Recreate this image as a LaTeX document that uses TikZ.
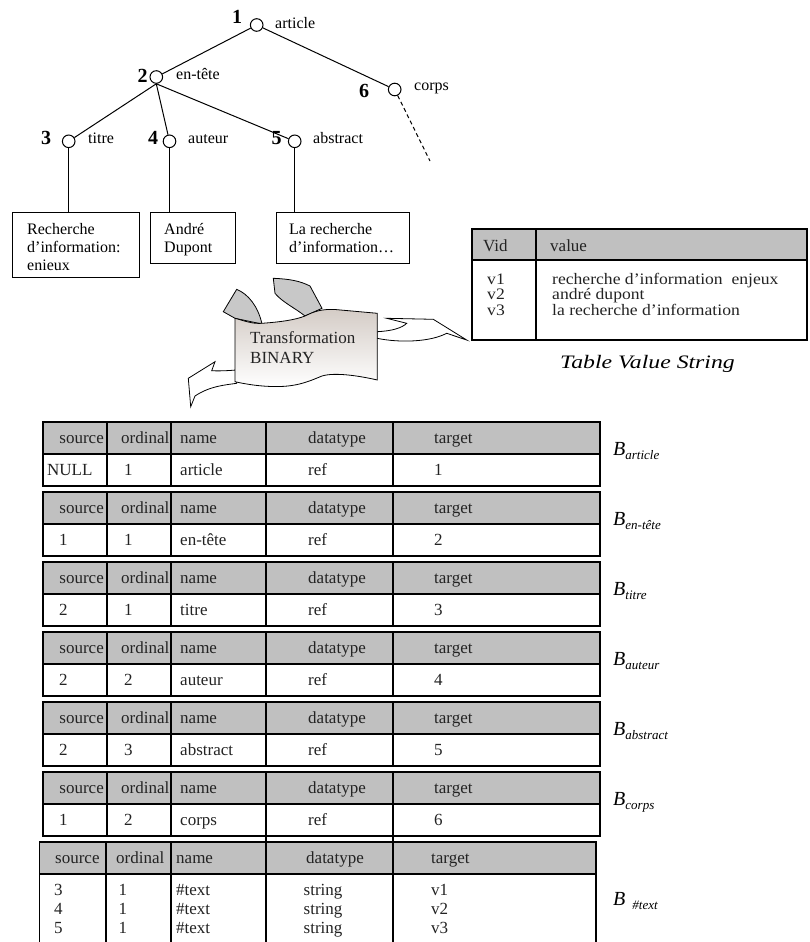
\documentclass[tikz,border=0pt]{standalone}
\usepackage{fontspec}
\setmainfont{Liberation Serif}
\newfontfamily\widefont[FakeStretch=1.25]{Liberation Serif Italic}
\newfontfamily\valfont[FakeStretch=1.1]{Liberation Serif}
\usetikzlibrary{positioning}

\definecolor{hdrgray}{RGB}{192,192,192}
\definecolor{flapgray}{RGB}{200,200,200}
\definecolor{scrolltop}{RGB}{212,204,198}
\definecolor{ink}{RGB}{35,35,35}

\tikzstyle{elem} = [circle, draw=black, line width=1pt, minimum size=12.6pt, inner sep=0pt]
\tikzstyle{elemnum} = [font=\fontsize{20}{22}\selectfont\bfseries, inner sep=0pt, anchor=base]
\tikzstyle{elemtag} = [font=\fontsize{16}{18}\selectfont, inner sep=0pt, anchor=base west]
\tikzstyle{edge} = [draw=black, line width=1pt]
\tikzstyle{leaf} = [rectangle, draw=black, line width=1pt, anchor=north west, inner sep=0pt]
\tikzstyle{leaftext} = [font=\fontsize{16}{18}\selectfont, align=left, inner sep=0pt, anchor=north west]
\tikzstyle{hdr} = [fill=hdrgray, draw=black, line width=1.2pt]
\tikzstyle{tbl} = [draw=black, line width=1.2pt]
\tikzstyle{cell} = [font=\fontsize{17}{19}\selectfont, text=ink, inner sep=0pt, anchor=base west]
\tikzstyle{valcell} = [font=\valfont\fontsize{16}{17}\selectfont, text=ink, inner sep=0pt, anchor=base west]
\tikzstyle{flap} = [fill=flapgray, draw=black, line width=0.8pt]
\tikzstyle{tail} = [fill=white, draw=black, line width=0.8pt]

\newcommand{\bname}[2][0pt]{{\fontsize{20}{22}\selectfont\itshape B}\hspace{#1}{\fontsize{13}{15}\selectfont\itshape\raisebox{-4pt}{#2}}}

\begin{document}
\begin{tikzpicture}[x=1pt, y=-1pt]
	\useasboundingbox (0,0) rectangle (810,942);
	\clip (0,0) rectangle (810,942);
	\fill[white] (0,0) rectangle (810,942);

	% Nodes for the document tree
	\node (article) [elem] at (256.7,25) {};
	\node (entete) [elem] at (156.3,77) {};
	\node (corps) [elem] at (394.7,89.5) {};
	\node (titre) [elem] at (68.7,141.3) {};
	\node (auteur) [elem] at (169.5,141.3) {};
	\node (abstract) [elem] at (294.7,141.3) {};
	\coordinate (corpsmore) at (430,161);

	% Numbers and names of the elements
	\node (num1) [elemnum] at (237,24) {1};
	\node (num2) [elemnum] at (142.5,82) {2};
	\node (num6) [elemnum] at (364,97) {6};
	\node (num3) [elemnum] at (46,144) {3};
	\node (num4) [elemnum] at (153,144) {4};
	\node (num5) [elemnum] at (276.5,144) {5};
	\node (tagarticle) [elemtag] at (275,28.5) {article};
	\node (tagentete) [elemtag] at (176,79) {en-tête};
	\node (tagcorps) [elemtag] at (414,90) {corps};
	\node (tagtitre) [elemtag] at (88,143) {titre};
	\node (tagauteur) [elemtag] at (188,143) {auteur};
	\node (tagabstract) [elemtag] at (313,143) {abstract};

	% Edges of the tree
	\draw [edge] (article) -- (entete);
	\draw [edge] (article) -- (corps);
	\draw [edge] (entete.south) -- (titre);
	\draw [edge] (entete.south) -- (auteur);
	\draw [edge] (entete.south) -- (abstract);
	\draw [edge, dash pattern=on 4pt off 3pt] (corps) -- (corpsmore);

	% Text leaves
	\node (boxtitre) [leaf, minimum width=127pt, minimum height=65pt] at (12,212) {};
	\node (boxauteur) [leaf, minimum width=85pt, minimum height=51pt] at (150,212) {};
	\node (boxabstract) [leaf, minimum width=133pt, minimum height=51pt] at (276,212) {};
	\node (texttitre) [leaftext] at (27,223) {Recherche\\d’information:\\enieux};
	\node (textauteur) [leaftext] at (164,223) {André\\Dupont};
	\node (textabstract) [leaftext] at (289,223) {La recherche\\d’information…};
	\draw [edge] (titre) -- (titre |- boxtitre.north);
	\draw [edge] (auteur) -- (auteur |- boxauteur.north);
	\draw [edge] (abstract) -- (abstract |- boxabstract.north);

	% Table Value String
	\filldraw [hdr] (472,229) rectangle (807,260);
	\draw [tbl] (472,260) rectangle (807,340);
	\draw [tbl] (536,229) -- (536,340);
	\node (vidhead) [cell] at (483,251) {Vid};
	\node (valuehead) [cell] at (550,251) {value};
	\foreach \v/\txt [count=\i] in {v1/recherche d’information~ enjeux, v2/andré dupont, v3/la recherche d’information} {
		\node (vid\i) [valcell] at (487,268.5+15.5*\i) {\v};
		\node (val\i) [valcell] at (552,268.5+15.5*\i) {\txt};
	}
	\node (tablecaption) [inner sep=0pt, anchor=base west, font=\widefont\fontsize{19}{21}\selectfont] at (560,368) {Table Value String};

	% Transformation scroll
	\draw [flap] (223.3,311.7) -- (236.7,289.3) .. controls (248,294) and (258,306) .. (262,324) -- (235,318.3) -- cycle;
	\draw [flap] (273.3,278.3) .. controls (290,279) and (300,281) .. (310,286) -- (322,308.3) -- (305,316) .. controls (295,308) and (282,302) .. (275,293.3) -- cycle;
	\draw [tail] (377,331.7) .. controls (392,331) and (402,328) .. (406.7,323.3) -- (386.7,318.3) -- (433.3,319.3) -- (466.7,340) -- (446.7,333.3) .. controls (430,342) and (400,343) .. (377,338.3) -- cycle;
	\draw [tail] (236,370) .. controls (225,371) and (216,371) .. (211.7,370.7) -- (215,361.7) -- (188.3,378.3) -- (190.7,406.7) -- (195,396) .. controls (210,386) and (225,385) .. (236.7,383.3) -- cycle;
	\path [draw=black, line width=0.8pt, top color=scrolltop, bottom color=white]
		(235,318.3) .. controls (245,321) and (252,324) .. (262,323.3)
		.. controls (280,322) and (295,320) .. (305,316)
		.. controls (315,311) and (322,309) .. (335,309.5) -- (377.3,313.3) -- (377.3,380)
		.. controls (360,376) and (335,372) .. (322,376)
		.. controls (312,380) and (300,386) .. (280,386.5)
		.. controls (262,387) and (245,384) .. (235,381.7) -- cycle;
	\node (transfo) [font=\fontsize{17}{20}\selectfont, text=ink, align=left, inner sep=0pt, anchor=west] at (250,348) {Transformation\\BINARY};

	% Binary tables
	\foreach \sx/\src/\ord/\nm/\tgt [count=\k from 0] in {47/NULL/1/article/1, 59/1/1/en-tête/2, 59/2/1/titre/3, 59/2/2/auteur/4, 59/2/3/abstract/5, 59/1/2/corps/6} {
		\pgfmathsetmacro{\ty}{422+70*\k}
		\filldraw [hdr] (43,\ty) rectangle (600,\ty+32);
		\draw [tbl] (43,\ty+32) rectangle (600,\ty+64);
		\foreach \x in {107,171,266,393} \draw [tbl] (\x,\ty) -- (\x,\ty+64);
		\node (src\k) [cell, anchor=base east] at (104,\ty+21) {source};
		\node (ord\k) [cell] at (121,\ty+21) {ordinal};
		\node (nam\k) [cell] at (180,\ty+21) {name};
		\node (typ\k) [cell] at (308,\ty+21) {datatype};
		\node (tar\k) [cell] at (434,\ty+21) {target};
		\node (srcv\k) [cell] at (\sx,\ty+53) {\src};
		\node (ordv\k) [cell] at (124,\ty+53) {\ord};
		\node (namv\k) [cell] at (180,\ty+53) {\nm};
		\node (typv\k) [cell] at (308,\ty+53) {ref};
		\node (tarv\k) [cell] at (434,\ty+53) {\tgt};
		\node (blab\k) [inner sep=0pt, anchor=base west] at (613,\ty+33) {\bname{\nm}};
	}

	% Table of the text values
	\filldraw [hdr] (39.5,842) rectangle (596,874);
	\draw [tbl] (39.5,874) -- (39.5,950);
	\draw [tbl] (596,874) -- (596,950);
	\foreach \x in {106,171} \draw [tbl] (\x,842) -- (\x,950);
	\foreach \x in {266,393} \draw [tbl] (\x,836) -- (\x,950);
	\node (srct) [cell] at (55,863) {source};
	\node (ordt) [cell] at (116,863) {ordinal};
	\node (namt) [cell] at (176,863) {name};
	\node (typt) [cell] at (306,863) {datatype};
	\node (tart) [cell] at (431,863) {target};
	\foreach \s/\v [count=\i from 0] in {3/v1, 4/v2, 5/v3} {
		\node (srctv\i) [cell] at (54,895+19*\i) {\s};
		\node (ordtv\i) [cell] at (118.5,895+19*\i) {1};
		\node (namtv\i) [cell] at (176,895+19*\i) {\#text};
		\node (typtv\i) [cell] at (303.5,895+19*\i) {string};
		\node (tartv\i) [cell] at (431,895+19*\i) {\v};
	}
	\node (blabtext) [inner sep=0pt, anchor=base west] at (613,905) {\bname[7pt]{\#text}};
\end{tikzpicture}
\end{document}
